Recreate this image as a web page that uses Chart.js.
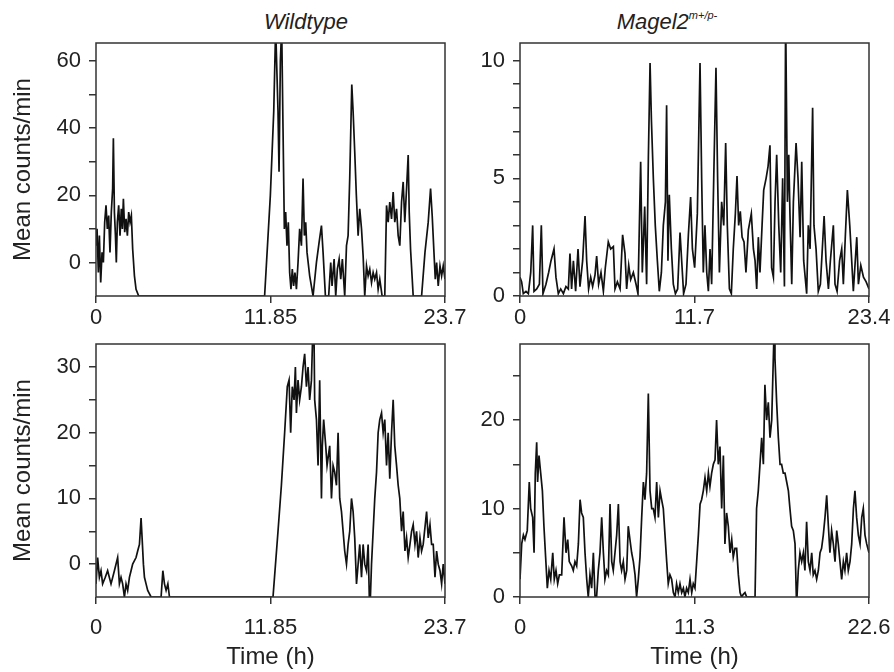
<!DOCTYPE html>
<html><head><meta charset="utf-8">
<script src="https://cdn.jsdelivr.net/npm/chart.js@4.4.0/dist/chart.umd.min.js"></script>
<style>
html,body{margin:0;padding:0;background:#fff;}
#wrap{position:relative;width:894px;height:672px;overflow:hidden;background:#fff;}
canvas{position:absolute;}
.ttl{position:absolute;font-family:"Liberation Sans",Arial,sans-serif;font-style:italic;font-size:22px;color:#222;transform:translate(-50%,-50%);white-space:nowrap;line-height:1;}
.ttl sup{font-size:11px;vertical-align:top;position:relative;top:-1px;}
</style></head><body>
<div id="wrap">
<div class="ttl" style="left:306px;top:22px">Wildtype</div>
<div class="ttl" style="left:667px;top:22px">Magel2<sup>m+/p-</sup></div>
<canvas id="c1" width="480" height="336" style="left:0;top:0"></canvas>
<canvas id="c2" width="454" height="336" style="left:440px;top:0"></canvas>
<canvas id="c3" width="480" height="336" style="left:0;top:336px"></canvas>
<canvas id="c4" width="454" height="336" style="left:440px;top:336px"></canvas>
</div>
<script>
const FONT = '"Liberation Sans", Arial, sans-serif';

// ---- Wildtype, top panel ----
const wtTopTime = [0,0.07,0.16,0.23,0.32,0.41,0.50,0.59,0.68,0.77,0.86,0.95,1.04,1.13,1.18,1.25,1.32,1.38,1.45,1.54,1.63,1.72,1.79,1.86,1.95,2.04,2.13,2.22,2.31,2.40,2.49,2.61,2.72,2.90,11.45,11.84,12.07,12.20,12.36,12.43,12.52,12.61,12.70,12.79,12.88,12.97,13.06,13.15,13.24,13.33,13.42,13.51,13.61,13.72,13.83,13.95,14.06,14.15,14.24,14.33,14.51,14.74,14.97,15.15,15.31,15.42,15.58,15.80,15.94,16.03,16.17,16.28,16.39,16.51,16.62,16.73,16.89,17.01,17.12,17.23,17.37,17.46,17.57,17.68,17.80,17.91,18.03,18.14,18.25,18.37,18.48,18.59,18.71,18.82,18.93,19.05,19.16,19.27,19.43,19.61,19.73,19.84,19.95,20.07,20.18,20.29,20.41,20.52,20.63,20.75,20.86,20.97,21.09,21.20,21.27,21.36,21.54,22.11,22.34,22.56,22.72,22.83,22.95,23.04,23.13,23.24,23.36,23.47,23.58,23.70];
const wtTopCounts = [5,10,-3,8,-6,3,0,12,17,10,14,3,15,22,37,15,8,0,12,17,8,16,10,19,9,13,8,15,12,14,4,-4,-8,-10,-10,20,45,70,45,27,60,70,40,10,15,5,12,-3,-8,-2,-7,-3,-8,0,10,5,25,8,12,3,-4,-10,0,6,11,3,-10,-10,0,-7,1,-10,-2,1,-5,1,-10,5,8,25,53,45,33,20,8,16,10,2,-10,-1,-4,-2,-6,-3,-5,-3,-8,-5,-10,-10,17,12,18,13,21,12,16,8,5,18,24,12,22,32,15,4,-10,-10,3,12,22,14,3,-5,0,-7,-1,-4,-1,-5];

// ---- Magel2 m+/p-, top panel ----
const mgTopTime = [0,0.11,0.22,0.40,0.56,0.72,0.85,0.94,1.12,1.30,1.43,1.54,1.74,1.92,2.08,2.28,2.41,2.57,2.73,2.91,3.08,3.24,3.35,3.46,3.58,3.73,3.89,4.02,4.20,4.36,4.47,4.60,4.74,4.87,5.03,5.14,5.27,5.43,5.59,5.72,5.92,6.08,6.26,6.37,6.53,6.71,6.88,7.04,7.15,7.29,7.42,7.60,7.78,7.91,8.09,8.20,8.36,8.49,8.61,8.72,8.81,8.94,9.07,9.21,9.34,9.48,9.61,9.75,9.83,9.92,10.01,10.15,10.28,10.42,10.57,10.73,10.84,10.97,11.13,11.29,11.44,11.56,11.71,11.89,12.07,12.18,12.29,12.40,12.52,12.63,12.74,12.85,12.99,13.14,13.25,13.37,13.52,13.66,13.79,13.90,14.04,14.17,14.30,14.44,14.55,14.66,14.77,14.89,15.02,15.15,15.31,15.51,15.65,15.76,15.87,15.98,16.09,16.23,16.34,16.50,16.63,16.76,16.87,16.99,17.10,17.21,17.35,17.48,17.61,17.73,17.81,17.93,18.02,18.10,18.22,18.33,18.51,18.64,18.78,18.89,19.02,19.22,19.33,19.45,19.62,19.71,19.85,20.00,20.14,20.39,20.52,20.68,20.81,21.01,21.12,21.26,21.43,21.57,21.68,21.81,21.95,22.11,22.24,22.35,22.58,22.69,22.85,23.03,23.21,23.40];
const mgTopCounts = [0.8,0.6,0.1,0.2,0.1,1.0,3.0,0.2,0.3,0.5,3.0,0.1,0.5,1.0,1.5,2.0,0.8,0.1,0.3,0.1,0.4,0.3,1.8,0.3,1.5,0.2,2.0,0.4,1.5,3.4,1.5,0.3,0.8,0.4,0.9,1.7,0.5,1.0,0.2,1.2,2.3,2.0,2.1,0.3,0.6,0.3,2.6,1.8,0.3,1.3,0.7,1.0,0.5,0.1,5.7,1.0,3.8,0.5,6.0,9.9,7.5,5.0,3.0,1.5,0.2,1.0,3.0,4.0,8.1,1.5,4.3,2.0,0.5,0.1,0.3,2.7,1.5,0.1,0.5,2.6,4.2,2.0,1.2,3.5,9.9,5.0,1.0,3.0,1.0,0.2,2.0,0.5,5.0,9.7,5.0,1.0,4.0,3.0,6.5,3.0,0.3,0.1,2.0,3.5,5.1,3.0,3.6,2.5,2.3,1.0,2.8,3.5,2.0,1.5,0.3,2.5,1.0,3.0,4.5,5.0,5.5,6.4,1.2,0.8,4.0,6.0,3.0,1.0,5.0,0.4,12,4.0,6.0,3.5,0.5,4.0,6.5,5.0,2.5,5.7,1.5,0.1,3.0,2.0,8.0,3.0,2.0,0.2,0.5,3.4,1.5,0.3,1.5,3.0,0.5,0.2,1.5,2.0,0.5,2.5,4.5,3.0,1.5,0.2,2.5,0.5,1.3,0.8,0.6,0.3];

// ---- Wildtype, bottom panel ----
const wtBotTime = [0,0.11,0.23,0.34,0.45,0.63,0.79,1.02,1.25,1.47,1.59,1.70,1.81,1.93,2.04,2.15,2.27,2.38,2.49,2.72,2.83,2.95,3.06,3.13,3.22,3.29,3.40,3.51,3.74,4.42,4.54,4.65,4.76,4.88,4.99,12.02,12.36,12.59,12.81,12.99,13.11,13.22,13.33,13.45,13.54,13.61,13.72,13.83,13.95,14.06,14.17,14.29,14.40,14.51,14.63,14.78,14.85,14.97,15.08,15.19,15.31,15.37,15.46,15.60,15.69,15.87,15.99,16.10,16.21,16.33,16.44,16.55,16.67,16.78,16.89,17.01,17.12,17.23,17.35,17.46,17.57,17.69,17.80,17.91,18.03,18.14,18.25,18.37,18.48,18.59,18.71,18.82,18.93,19.05,19.16,19.27,19.39,19.50,19.61,19.73,19.84,19.95,20.07,20.18,20.29,20.41,20.52,20.63,20.75,20.86,20.98,21.09,21.20,21.32,21.43,21.54,21.66,21.77,21.88,22.00,22.11,22.22,22.45,22.56,22.68,22.79,22.90,23.02,23.13,23.24,23.36,23.47,23.58,23.70];
const wtBotCounts = [-3,1,-2,-1,-3,-2,-1,-3,-1,1,-3,-2,-3,-5,-3,-4,-2,-1,0,1,2,3,7,4,0,-2,-3,-4,-5,-5,-1,-3,-4,-3,-5,-5,5,12,20,27,28,20,27,25,30,23,28,25,27,30,32,27,30,25,28,40,25,22,15,28,10,18,22,18,15,18,10,15,14,12,20,10,8,5,2,0,3,5,10,8,4,-3,0,3,-2,3,0,-1,3,-8,0,5,10,14,20,22,23,20,22,15,20,13,20,25,18,15,12,10,5,8,2,4,1,3,5,6,3,5,1,4,2,3,8,4,6,3,3,-2,2,0,-1,-3,0,-3];

// ---- Magel2 m+/p-, bottom panel ----
const mgBotTime = [0,0.11,0.22,0.32,0.47,0.60,0.69,0.82,0.91,0.99,1.08,1.14,1.23,1.34,1.45,1.55,1.66,1.77,1.88,1.99,2.12,2.22,2.33,2.44,2.55,2.70,2.85,2.98,3.09,3.19,3.35,3.45,3.56,3.67,3.78,3.89,3.99,4.10,4.21,4.32,4.42,4.53,4.64,4.75,4.86,4.96,5.07,5.18,5.29,5.40,5.50,5.61,5.72,5.83,5.94,6.04,6.15,6.26,6.37,6.48,6.58,6.69,6.80,6.91,7.01,7.12,7.23,7.34,7.45,7.55,7.66,7.77,7.88,7.99,8.09,8.20,8.31,8.42,8.53,8.63,8.74,8.85,8.96,9.07,9.17,9.28,9.39,9.50,9.60,9.71,9.82,9.93,10.04,10.14,10.25,10.36,10.47,10.58,10.68,10.79,10.90,11.01,11.12,11.22,11.33,11.44,11.55,11.66,11.76,11.87,11.98,12.09,12.20,12.30,12.41,12.52,12.63,12.73,12.84,12.95,13.06,13.17,13.27,13.38,13.49,13.60,13.71,13.81,13.92,14.03,14.14,14.25,14.35,14.46,14.57,14.68,15.22,15.32,15.43,15.54,15.65,15.76,15.86,15.97,16.08,16.19,16.30,16.45,16.51,16.62,16.73,16.84,16.94,17.05,17.16,17.27,17.38,17.48,17.59,17.70,17.81,17.91,18.02,18.13,18.24,18.35,18.45,18.56,18.67,18.78,18.89,18.99,19.10,19.21,19.32,19.43,19.53,19.64,19.75,19.86,19.97,20.07,20.18,20.29,20.40,20.51,20.61,20.72,20.83,20.94,21.04,21.15,21.26,21.37,21.48,21.59,21.69,21.80,21.91,22.02,22.13,22.23,22.34,22.45,22.60];
const mgBotCounts = [2,6,7,6.5,7.5,13,10,9,5,14,17.5,13,16,14,12,8,4.5,1,3,2,5,2,3,1.5,2.5,2.5,9,5,6.5,4,3.5,3,4,3.5,6,11,9.5,9,5,2,0,2.5,1,5,0,0,3,5,9,5,2,3,2.5,10.5,4,3,5,7,10.5,4,3,4,2,3,8,6.5,5,4,2.5,0,2,4.5,9,13,11,14,23,12,10,10,9,13,9,12,11,10,7,4,1.5,2.5,2,0.5,0,1.5,0.5,1.5,0.5,1,0,1,0.5,2,0.5,1.5,1,4,7,10.5,11,12,13.5,12,14,12.5,14,15,15.5,20,15,17,10,16,6,9.5,8,5,6.5,4.5,5.5,5.5,2.5,0.5,0,0.3,0.5,0,0,10,12,15,18,15,24,20,22,18,20,30,27,22,18,15,15,14,14,13,12,10,8,7.5,6,-1,3,5,4,5,3,8.5,4,3,5,2.5,3,2,3,5,5.5,7,9,11.5,8,5,7.5,6,4,7.5,6,4,2,4,3,5,3,4,6,10,12,9,7,6,9,10,7,6,5];

// ---- axis ticks and labels ----
const wtXTicks = [0, 11.85, 23.7];
const wtXLabels = ['0', '11.85', '23.7'];
const mgTopXTicks = [0, 11.7, 23.4];
const mgTopXLabels = ['0', '11.7', '23.4'];
const mgBotXTicks = [0, 11.3, 22.6];
const mgBotXLabels = ['0', '11.3', '22.6'];
const wtTopYTicks = [0, 10, 20, 30, 40, 50, 60];
const wtTopYLabels = ['0', '', '20', '', '40', '', '60'];
const mgTopYTicks = [0, 1, 2, 3, 4, 5, 6, 7, 8, 9, 10];
const mgTopYLabels = ['0', '', '', '', '', '5', '', '', '', '', '10'];
const wtBotYTicks = [0, 5, 10, 15, 20, 25, 30];
const wtBotYLabels = ['0', '', '10', '', '20', '', '30'];
const mgBotYTicks = [0, 5, 10, 15, 20, 25];
const mgBotYLabels = ['0', '', '10', '', '20', ''];
const yAxisTitle = 'Mean counts/min';
const xAxisTitle = 'Time (h)';

const framePlugin = {
  id: 'frame',
  afterDatasetsDraw(chart) {
    const {ctx, chartArea: a} = chart;
    ctx.save();
    ctx.strokeStyle = '#333';
    ctx.lineWidth = 1.5;
    ctx.strokeRect(a.left, a.top, a.right - a.left, a.bottom - a.top);
    ctx.restore();
  }
};

function makePanel(id, cfg) {
  const pts = cfg.time.map((t, i) => ({x: t, y: cfg.counts[i]}));
  new Chart(document.getElementById(id), {
    type: 'line',
    data: {datasets: [{data: pts, borderColor: '#111', borderWidth: 1.7, pointRadius: 0, tension: 0, fill: false}]},
    options: {
      responsive: false, animation: false, events: [],
      layout: {padding: {left: 0, top: cfg.padTop, right: cfg.padRight, bottom: 0}},
      plugins: {legend: {display: false}, tooltip: {enabled: false}, title: {display: false}},
      scales: {
        x: {
          type: 'linear', min: cfg.xMin, max: cfg.xMax,
          afterBuildTicks: s => { s.ticks = cfg.xTicks.map(v => ({value: v})); },
          afterFit: s => { s.height = cfg.xH; s.paddingLeft = 0; s.paddingRight = 0; },
          ticks: {autoSkip: false, maxRotation: 0, minRotation: 0, padding: cfg.xPad, color: '#222',
                  font: {family: FONT, size: 22}, callback: (v, i) => cfg.xLabels[i]},
          grid: {display: true, drawOnChartArea: false, drawTicks: true, tickLength: 7, color: '#333', lineWidth: 1.5},
          border: {display: false},
          title: {display: !!cfg.xTitle, text: cfg.xTitle || '', color: '#222',
                  font: {family: FONT, size: 24}, padding: {top: 0, bottom: 0}}
        },
        y: {
          type: 'linear', min: cfg.yMin, max: cfg.yMax,
          afterBuildTicks: s => { s.ticks = cfg.yTicks.map(v => ({value: v})); },
          afterFit: s => { s.width = cfg.yW; s.paddingTop = 0; s.paddingBottom = 0; },
          ticks: {autoSkip: false, padding: 8, color: '#222',
                  font: {family: FONT, size: 22}, callback: (v, i) => cfg.yLabels[i]},
          grid: {display: true, drawOnChartArea: false, drawTicks: true, tickLength: 7, color: '#333', lineWidth: 1.5},
          border: {display: false},
          title: {display: !!cfg.yTitle, text: cfg.yTitle || '', color: '#222',
                  font: {family: FONT, size: 24}, padding: {top: 9, bottom: 0}}
        }
      }
    },
    plugins: [framePlugin]
  });
}

makePanel('c1', {time: wtTopTime, counts: wtTopCounts, xMin: 0, xMax: 23.7, yMin: -10, yMax: 65.4,
  xTicks: wtXTicks, xLabels: wtXLabels, yTicks: wtTopYTicks, yLabels: wtTopYLabels,
  padTop: 43, padRight: 35, yW: 96, xH: 40, xPad: 2, yTitle: yAxisTitle});
makePanel('c2', {time: mgTopTime, counts: mgTopCounts, xMin: 0, xMax: 23.4, yMin: 0, yMax: 10.75,
  xTicks: mgTopXTicks, xLabels: mgTopXLabels, yTicks: mgTopYTicks, yLabels: mgTopYLabels,
  padTop: 43, padRight: 25, yW: 80, xH: 40, xPad: 2});
makePanel('c3', {time: wtBotTime, counts: wtBotCounts, xMin: 0, xMax: 23.7, yMin: -5, yMax: 33.5,
  xTicks: wtXTicks, xLabels: wtXLabels, yTicks: wtBotYTicks, yLabels: wtBotYLabels,
  padTop: 8, padRight: 35, yW: 96, xH: 75, xPad: 11, yTitle: yAxisTitle, xTitle: xAxisTitle});
makePanel('c4', {time: mgBotTime, counts: mgBotCounts, xMin: 0, xMax: 22.6, yMin: 0, yMax: 28.6,
  xTicks: mgBotXTicks, xLabels: mgBotXLabels, yTicks: mgBotYTicks, yLabels: mgBotYLabels,
  padTop: 8, padRight: 25, yW: 80, xH: 75, xPad: 11, xTitle: xAxisTitle});
</script>
</body></html>
